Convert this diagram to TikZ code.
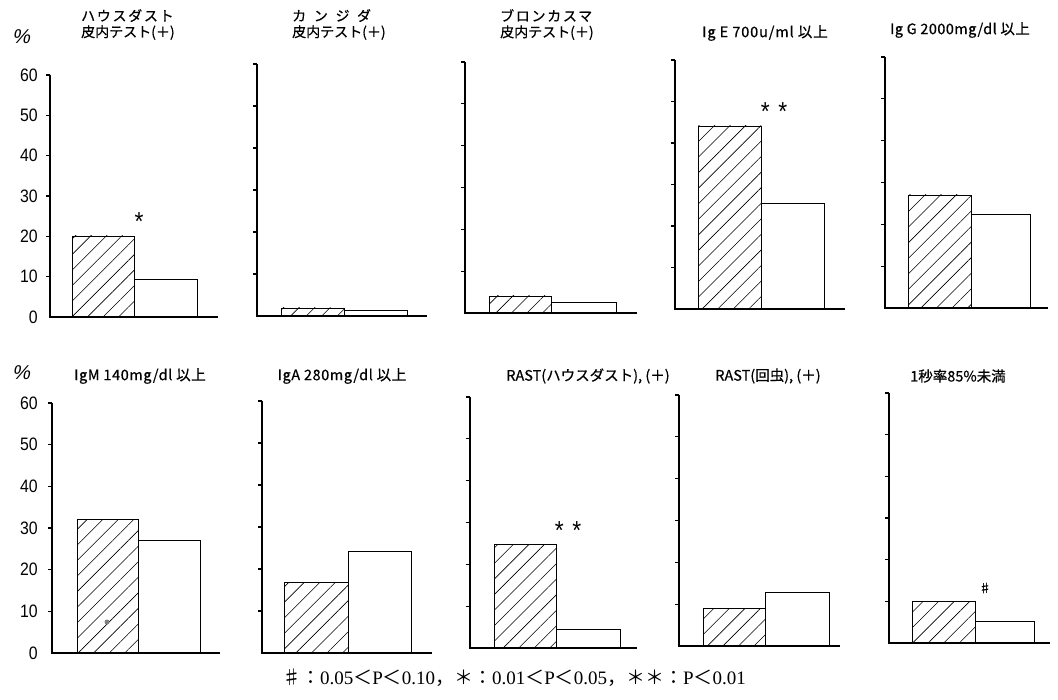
\documentclass[tikz,border=0pt]{standalone}
\usepackage{fontspec}
\setmainfont{Liberation Serif}
\newfontfamily\jp[FakeBold=0.6]{Noto Sans CJK JP}
\newfontfamily\jpl{Noto Sans CJK JP}
\newfontfamily\numf[FakeStretch=0.88]{Liberation Sans}
\newfontfamily\pctf[FakeSlant=0.2]{Liberation Sans}
\usetikzlibrary{patterns.meta}
\newcommand\fw[1]{{\jpl #1}}
% #1 name, #2 axis x, #3 top y, #4 base y, #5 baseline end, #6 hatched left, #7 hatched right = open left, #8 hatched top, #9 {open right}{open top}
\newcommand\barpanel[9]{%
  \draw[axisline] (#2,#3) -- (#2,#4) -- (#5,#4);
  \foreach \k in {0,...,5} \draw[axisline] ({#2},{#3+\k*(#4-#3)/6}) -- ++(-4,0);
  \draw[barbox,hatch] (#6,#4) rectangle (#7,#8);
  \barpanelopen{#7}{#4}#9}
\newcommand\barpanelopen[4]{\draw[barbox] (#1,#2) rectangle (#3,#4);}
\begin{document}
\begin{tikzpicture}[x=1pt,y=-1pt,
  axisline/.style={line width=1.1pt},
  barbox/.style={line width=0.9pt},
  hatch/.style={pattern={Lines[angle=45,distance=11pt,line width=0.6pt]}},
  ylab/.style={anchor=east, inner sep=0pt, font=\numf\fontsize{18}{18}\selectfont},
  ttl/.style={inner sep=0pt, font=\jp\fontsize{14.5}{16}\selectfont},
  ttlj/.style={inner sep=0pt, align=left, anchor=north west, font=\jp\fontsize{14}{16}\selectfont},
  sigmark/.style={inner sep=0pt, font=\numf\fontsize{26}{26}\selectfont},
  pctlab/.style={inner sep=0pt, font=\pctf\fontsize{20}{20}\selectfont}]
\useasboundingbox (0,0) rectangle (1058,700);

% ---------- top row ----------
\node[pctlab] (pcttop) at (21,37) {\char"25};
\foreach \v [count=\i from 0] in {0,10,20,30,40,50,60}
  \node[ylab] (ytop\v) at (38,{317-\i*(317-75)/6}) {\v};

\barpanel{p1}{50}{75}{317}{218}{72}{134}{236}{{197}{279}}
\barpanel{p2}{257}{64}{316}{427}{281}{344}{308}{{407}{310}}
\barpanel{p3}{465}{62}{313}{637}{489}{551}{296}{{616}{302}}
\barpanel{p4}{675}{60}{309}{845}{698}{761}{126}{{824}{203}}
\barpanel{p5}{885}{57}{308}{1048}{908}{971}{195}{{1030}{214}}

\node[ttlj] (t1) at (81,9) {{\addfontfeatures{LetterSpace=12}ハウスダスト}\\皮内テスト(＋)};
\node[ttlj] (t2) at (292,9) {{\addfontfeatures{LetterSpace=55}カンジダ}\\皮内テスト(＋)};
\node[ttlj] (t3) at (500,9) {{\addfontfeatures{LetterSpace=12}ブロンカスマ}\\皮内テスト(＋)};
\node[ttl] (t4) at (765,33) {{\addfontfeatures{LetterSpace=6}Ig E 700u/ml 以上}};
\node[ttl] (t5) at (960,30) {{\addfontfeatures{LetterSpace=3}Ig G 2000mg/dl 以上}};

\node[sigmark] (s1) at (139,222) {*};
\node[sigmark] (s4) at (774,112) {*\,\,*};

% ---------- bottom row ----------
\node[pctlab] (pctbot) at (21,373) {\char"25};
\foreach \v [count=\i from 0] in {0,10,20,30,40,50,60}
  \node[ylab] (ybot\v) at (38,{653-\i*(653-403)/6}) {\v};

\barpanel{q1}{52}{403}{653}{220}{77}{138}{519}{{200}{540}}
\barpanel{q2}{262}{401}{653}{432}{284}{348}{582}{{411}{551}}
\barpanel{q3}{470}{397}{648}{637}{494}{556}{544}{{620}{629}}
\barpanel{q4}{679}{395}{646}{840}{703}{765}{608}{{829}{592}}
\barpanel{q5}{889}{393}{643}{1050}{912}{975}{601}{{1034}{621}}

\node[ttl] (b1) at (140,376) {{\addfontfeatures{LetterSpace=4}IgM 140mg/dl 以上}};
\node[ttl] (b2) at (342,376) {{\addfontfeatures{LetterSpace=4}IgA 280mg/dl 以上}};
\node[ttl] (b3) at (588,376) {RAST(ハウスダスト), (＋)};
\node[ttl] (b4) at (768,376) {RAST(回虫), (＋)};
\node[ttl] (b5) at (958,376) {1秒率85\%未満};

\fill[gray] (107,622) circle[radius=2.5pt];
\node[sigmark] (s8) at (568,531) {*\,\,*};
\node[inner sep=0pt, font=\jp\fontsize{12}{12}\selectfont] (s10) at (985,588) {♯};

% ---------- footnote ----------
\node[inner sep=0pt, font=\fontsize{19}{19}\selectfont] (foot) at (514,678)
  {\fw{♯：}0.05\fw{＜}P\fw{＜}0.10\fw{，}\fw{＊：}0.01\fw{＜}P\fw{＜}0.05\fw{，}\fw{＊＊：}P\fw{＜}0.01};
\end{tikzpicture}
\end{document}
